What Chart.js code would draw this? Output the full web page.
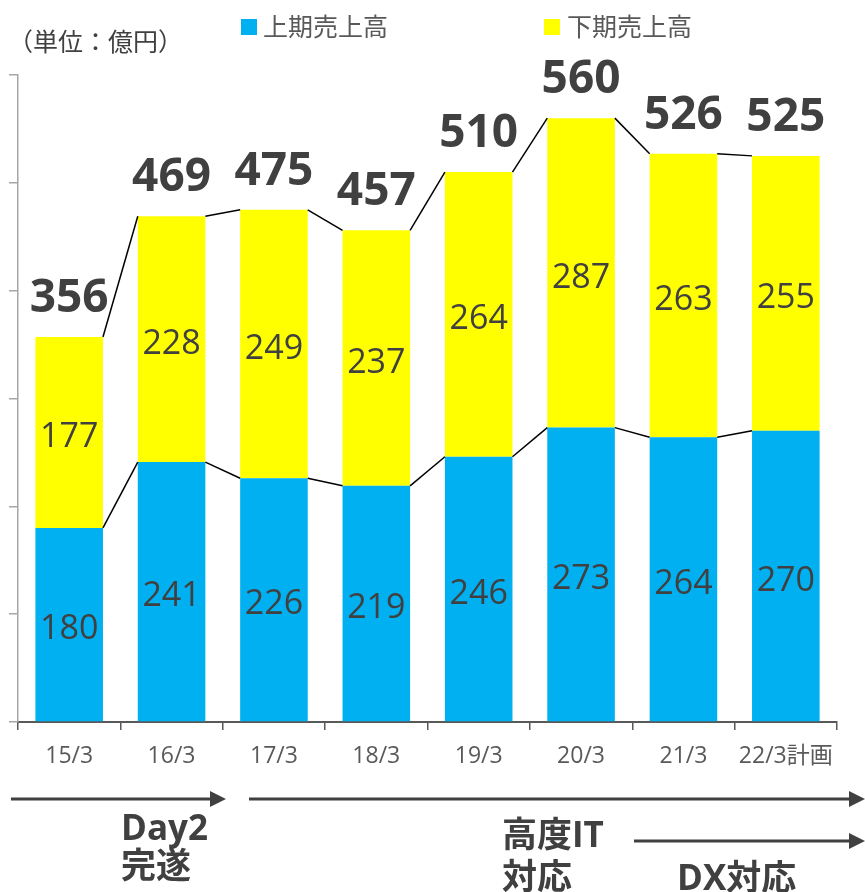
<!DOCTYPE html>
<html>
<head>
<meta charset="utf-8">
<script src="https://cdn.jsdelivr.net/npm/chart.js@4/dist/chart.umd.min.js"></script>
<style>
  html, body { margin: 0; padding: 0; background: #fff; }
  #wrap { position: relative; width: 865px; height: 892px; overflow: hidden; }
  canvas { position: absolute; left: 0; top: 0; }
  .t { position: absolute; white-space: nowrap; color: #404040; font-family: "Open Sans", "Noto Sans CJK JP", sans-serif; }
  .leg { font-size: 25px; color: #595959; line-height: 30px; font-family: "Noto Sans CJK JP", sans-serif; }
  .sq { position: absolute; width: 16px; height: 16px; }
  .b { font-weight: bold; font-size: 35px; line-height: 40px; font-family: "Open Sans", "Noto Sans CJK JP", sans-serif; }
  svg { position: absolute; left: 0; top: 0; }
</style>
</head>
<body>
<div id="wrap">
  <canvas id="c" width="865" height="892"></canvas>
  <div class="t leg" style="left:8px; top:25px; color:#404040;">（単位：億円）</div>
  <div class="sq" style="left:241px; top:19px; background:#00B0F0;"></div>
  <div class="t leg" style="left:263px; top:10px;">上期売上高</div>
  <div class="sq" style="left:544px; top:19px; background:#FFFF00;"></div>
  <div class="t leg" style="left:567px; top:10px;">下期売上高</div>
  <svg width="865" height="892">
    <g stroke="#404040" stroke-width="3" fill="#404040">
      <line x1="11" y1="799" x2="212" y2="799"/>
      <polygon points="210,791 226,799 210,807" stroke="none"/>
      <line x1="249" y1="799" x2="851" y2="799"/>
      <polygon points="849,791 865,799 849,807" stroke="none"/>
      <line x1="634" y1="841" x2="851" y2="841"/>
      <polygon points="849,833 865,841 849,849" stroke="none"/>
    </g>
  </svg>
  <div class="t b" style="left:121px; top:808px; line-height:38px;">Day2<br>完遂</div>
  <div class="t b" style="left:502px; top:813px; line-height:42px;">高度IT<br>対応</div>
  <div class="t b" style="left:677px; top:857px;">DX対応</div>
</div>
<script>
const categories = ["15/3", "16/3", "17/3", "18/3", "19/3", "20/3", "21/3", "22/3計画"];
const firstHalf = [180, 241, 226, 219, 246, 273, 264, 270];
const secondHalf = [177, 228, 249, 237, 264, 287, 263, 255];
const totals = [356, 469, 475, 457, 510, 560, 526, 525];
const seriesNames = ["上期売上高", "下期売上高"];

const labelPlugin = {
  id: 'labels',
  afterDatasetsDraw(chart) {
    const ctx = chart.ctx;
    const m0 = chart.getDatasetMeta(0).data;
    const m1 = chart.getDatasetMeta(1).data;
    ctx.save();
    ctx.strokeStyle = '#000';
    ctx.lineWidth = 1.5;
    [m0, m1].forEach(els => {
      for (let i = 0; i < els.length - 1; i++) {
        const a = els[i], b = els[i + 1];
        ctx.beginPath();
        ctx.moveTo(a.x + a.width / 2, a.y);
        ctx.lineTo(b.x - b.width / 2, b.y);
        ctx.stroke();
      }
    });
    ctx.fillStyle = '#404040';
    ctx.textAlign = 'center';
    ctx.textBaseline = 'middle';
    ctx.font = '34px "Open Sans", sans-serif';
    [[m0, firstHalf], [m1, secondHalf]].forEach(([els, vals]) => {
      els.forEach((el, i) => {
        ctx.fillText(String(vals[i]), el.x, (el.y + el.base) / 2 + 5);
      });
    });
    ctx.font = 'bold 46px "Open Sans", sans-serif';
    m1.forEach((el, i) => {
      ctx.fillText(String(totals[i]), el.x, el.y - 38);
    });
    ctx.restore();
  }
};

new Chart(document.getElementById('c'), {
  type: 'bar',
  data: {
    labels: categories,
    datasets: [
      { label: seriesNames[0], data: firstHalf, backgroundColor: '#00B0F0', borderWidth: 0 },
      { label: seriesNames[1], data: secondHalf, backgroundColor: '#FFFF00', borderWidth: 0 }
    ]
  },
  options: {
    responsive: false,
    animation: false,
    events: [],
    datasets: { bar: { categoryPercentage: 1, barPercentage: 0.66 } },
    layout: { padding: { top: 75, right: 28, bottom: 110, left: 0 } },
    plugins: { legend: { display: false }, tooltip: { enabled: false } },
    scales: {
      x: {
        stacked: true,
        afterFit(s) { s.height = 60; },
        grid: { drawOnChartArea: false, drawTicks: true, tickLength: 8, color: '#595959', lineWidth: 1.5 },
        border: { color: '#595959', width: 2 },
        ticks: { color: '#595959', font: { size: 23, family: '"Open Sans", "Noto Sans CJK JP", sans-serif' }, padding: 13, maxRotation: 0, autoSkip: false }
      },
      y: {
        stacked: true,
        min: 0, max: 600,
        afterFit(s) { s.width = 18; },
        ticks: { display: false, stepSize: 100 },
        grid: { drawOnChartArea: false, drawTicks: true, tickLength: 9, color: '#a6a6a6', lineWidth: 1.5 },
        border: { color: '#a6a6a6', width: 1.5 }
      }
    }
  },
  plugins: [labelPlugin]
});
</script>
</body>
</html>
